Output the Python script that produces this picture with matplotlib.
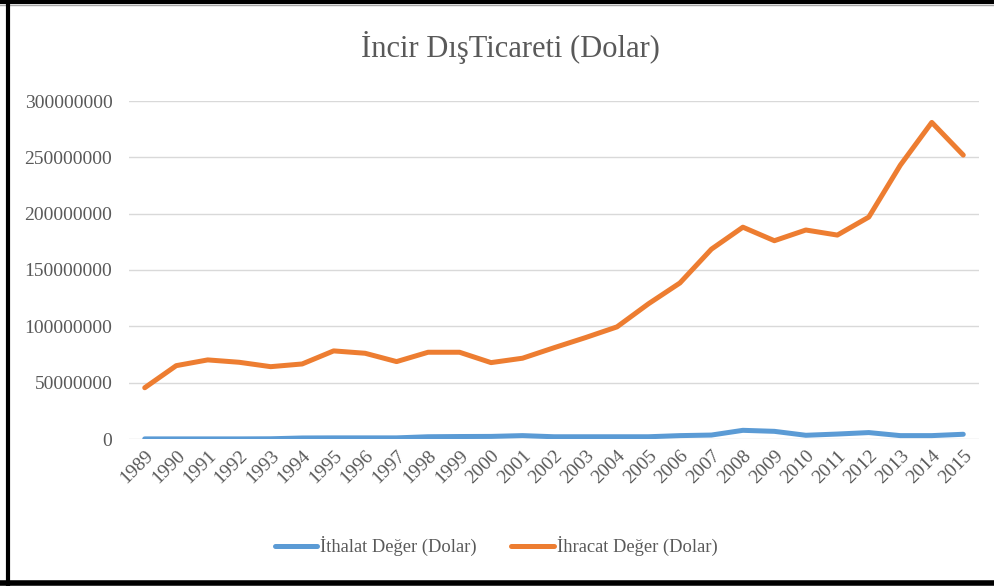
import matplotlib
matplotlib.use("Agg")
import matplotlib.pyplot as plt
from matplotlib.lines import Line2D
from matplotlib.ticker import FuncFormatter

years = [str(y) for y in range(1989, 2016)]
ithalat = [0.1e6, 0.1e6, 0.1e6, 0.1e6, 0.2e6, 0.9e6, 1.0e6, 1.0e6, 1.0e6, 2.0e6,
           2.2e6, 2.3e6, 3.0e6, 2.0e6, 2.0e6, 2.0e6, 2.0e6, 3.0e6, 3.5e6, 7.7e6,
           6.8e6, 3.3e6, 4.4e6, 5.7e6, 3.0e6, 3.0e6, 4.2e6]
ihracat = [45.5e6, 65.1e6, 70.2e6, 68.1e6, 64.2e6, 66.6e6, 78.2e6, 76.1e6, 68.7e6, 77.0e6,
           77.0e6, 67.8e6, 71.7e6, 81.0e6, 90.0e6, 99.5e6, 120.0e6, 138.5e6, 168.5e6, 188.0e6,
           176.0e6, 185.5e6, 181.0e6, 197.0e6, 243.0e6, 281.0e6, 252.0e6]
yticks = [0, 50e6, 100e6, 150e6, 200e6, 250e6, 300e6]

title = "İncir DışTicareti (Dolar)"
label_ith = "İthalat Değer (Dolar)"
label_ihr = "İhracat Değer (Dolar)"

plt.rcParams['font.family'] = ['Liberation Serif', 'DejaVu Serif']

W, H = 994, 586
fig = plt.figure(figsize=(W / 100, H / 100), dpi=100)
fig.patch.set_facecolor('white')

ax = fig.add_axes([129 / W, (H - 439) / H, (979 - 129) / W, (439 - 101) / H])
x = list(range(len(years)))
ax.plot(x, ithalat, color='#5B9BD5', lw=3.6, solid_capstyle='round', solid_joinstyle='round', zorder=3)
ax.plot(x, ihracat, color='#ED7D31', lw=3.6, solid_capstyle='round', solid_joinstyle='round', zorder=3)

ax.set_xlim(-0.5, len(years) - 0.5)
ax.set_ylim(0, 300e6)
ax.set_yticks(yticks)
ax.yaxis.set_major_formatter(FuncFormatter(lambda v, p: f"{int(round(v))}"))
ax.set_xticks(x)
ax.set_xticklabels(years, rotation=45, ha='right', rotation_mode='anchor')
ax.grid(axis='y', color='#D9D9D9', lw=1.0, zorder=0)
ax.set_axisbelow(True)
for s in ax.spines.values():
    s.set_visible(False)
ax.tick_params(axis='both', length=0, labelsize=14, labelcolor='#595959')
ax.tick_params(axis='y', pad=12)
ax.tick_params(axis='x', pad=6)

fig.text(510 / W, 1 - 48 / H, title, ha='center', va='center', fontsize=22, color='#595959')

handles = [Line2D([], [], color='#5B9BD5', lw=3.6, solid_capstyle='round'),
           Line2D([], [], color='#ED7D31', lw=3.6, solid_capstyle='round')]
fig.legend(handles, [label_ith, label_ihr], loc='center', bbox_to_anchor=(496 / W, 1 - 546 / H),
           ncol=2, frameon=False, fontsize=13.3, handlelength=2.3, handletextpad=0.15,
           columnspacing=1.9, labelcolor='#595959')

# frame
fig.add_artist(Line2D([0, 1], [1 - 2 / H, 1 - 2 / H], color='black', lw=3, transform=fig.transFigure))
fig.add_artist(Line2D([0, 1], [1 - 5 / H, 1 - 5 / H], color='#A6A6A6', lw=1, transform=fig.transFigure))
fig.add_artist(Line2D([8 / W, 8 / W], [0, 1], color='black', lw=3, transform=fig.transFigure))
fig.add_artist(Line2D([0, 1], [3 / H, 3 / H], color='black', lw=4, transform=fig.transFigure))

fig.savefig("out.png", dpi=100, facecolor='white')
